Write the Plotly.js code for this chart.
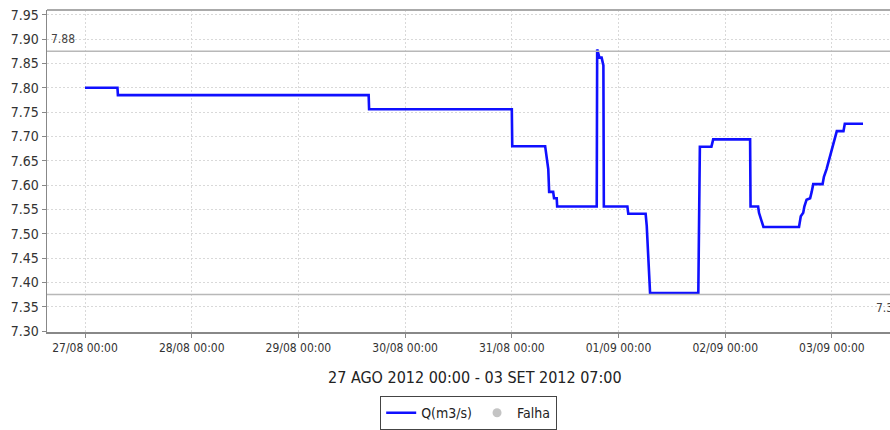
<!DOCTYPE html>
<html>
<head>
<meta charset="utf-8">
<script src="https://cdn.plot.ly/plotly-3.0.1.min.js"></script>
<style>
html,body{margin:0;padding:0;background:#fff;}
#chart{width:890px;height:430px;}
</style>
</head>
<body>
<div id="chart"></div>
<script>
// Data
const times = [
  "2012-08-27 00:00","2012-08-27 07:18","2012-08-27 07:24","2012-08-29 15:48","2012-08-29 15:54",
  "2012-08-31 00:00","2012-08-31 00:06","2012-08-31 07:30","2012-08-31 08:12","2012-08-31 08:24",
  "2012-08-31 09:18","2012-08-31 09:30","2012-08-31 10:06","2012-08-31 10:12","2012-08-31 19:06",
  "2012-08-31 19:12","2012-08-31 19:42","2012-08-31 20:12","2012-08-31 20:36","2012-08-31 20:42",
  "2012-09-01 02:00","2012-09-01 02:12","2012-09-01 06:06","2012-09-01 06:21","2012-09-01 07:06",
  "2012-09-01 17:57","2012-09-01 18:18","2012-09-01 20:54","2012-09-01 21:18","2012-09-02 05:36",
  "2012-09-02 05:42","2012-09-02 07:24","2012-09-02 07:36","2012-09-02 08:03","2012-09-02 08:36",
  "2012-09-02 16:36","2012-09-02 17:00","2012-09-02 17:33","2012-09-02 17:48","2012-09-02 18:18",
  "2012-09-02 19:06","2012-09-02 19:27","2012-09-02 19:48","2012-09-02 21:54","2012-09-02 22:12",
  "2012-09-02 22:48","2012-09-02 23:12","2012-09-02 23:42","2012-09-03 00:18","2012-09-03 00:42",
  "2012-09-03 01:06","2012-09-03 02:36","2012-09-03 02:54","2012-09-03 07:00"
];
const flow = [
  7.800,7.800,7.785,7.785,7.756,
  7.756,7.680,7.680,7.633,7.586,
  7.586,7.573,7.573,7.556,7.556,
  7.879,7.862,7.862,7.846,7.556,
  7.556,7.541,7.541,7.516,7.378,
  7.378,7.679,7.679,7.694,7.694,
  7.556,7.556,7.543,7.529,7.514,
  7.514,7.536,7.543,7.556,7.570,
  7.573,7.586,7.602,7.602,7.617,
  7.633,7.647,7.664,7.681,7.697,
  7.711,7.711,7.726,7.726
];
const seriesName = "Q(m3/s)";
const failName = "Falha";
const upperLimit = 7.875, upperLabel = "7.88";
const lowerLimit = 7.375, lowerLabel = "7.38";
const xTitle = "27 AGO 2012 00:00 - 03 SET 2012 07:00";
const tickVals = ["2012-08-27","2012-08-28","2012-08-29","2012-08-30","2012-08-31","2012-09-01","2012-09-02","2012-09-03"];
const tickText = ["27/08 00:00","28/08 00:00","29/08 00:00","30/08 00:00","31/08 00:00","01/09 00:00","02/09 00:00","03/09 00:00"];

const FONT = "DejaVu Sans Condensed, DejaVu Sans, sans-serif";

const traces = [
  {x: times, y: flow, type: "scatter", mode: "lines", name: seriesName,
   line: {color: "#1010ff", width: 2.6}, hoverinfo: "skip"},
  {x: [null], y: [null], type: "scatter", mode: "markers", name: failName,
   marker: {color: "#c4c4c4", size: 9, symbol: "circle"}}
];

const layout = {
  width: 890, height: 430,
  margin: {l: 47, r: 0, t: 10, b: 92},
  paper_bgcolor: "#ffffff", plot_bgcolor: "#ffffff",
  font: {family: FONT, size: 12, color: "#333"},
  showlegend: true,
  legend: {orientation: "h", x: 0.5, xanchor: "center", y: -0.2, yanchor: "top",
           bordercolor: "#444", borderwidth: 1.2, bgcolor: "#fff",
           font: {family: FONT, size: 14, color: "#222"}, itemwidth: 30, tracegroupgap: 0},
  xaxis: {
    type: "date", range: ["2012-08-26 15:27", "2012-09-03 13:04"],
    tickvals: tickVals, ticktext: tickText,
    showgrid: true, gridcolor: "#d9d9d9", griddash: "2px,2px", gridwidth: 1,
    showline: true, linecolor: "#888", linewidth: 1.5, mirror: false,
    ticks: "outside", ticklen: 4, tickcolor: "#888",
    tickfont: {family: FONT, size: 12, color: "#333"}, zeroline: false
  },
  yaxis: {
    range: [7.298, 7.960], tick0: 7.30, dtick: 0.05, tickformat: ".2f",
    showgrid: true, gridcolor: "#d9d9d9", griddash: "2px,2px", gridwidth: 1,
    showline: true, linecolor: "#888", linewidth: 1.5,
    ticks: "outside", ticklen: 4, tickcolor: "#888",
    tickfont: {family: FONT, size: 14, color: "#333"}, zeroline: false
  },
  shapes: [
    {type: "line", xref: "paper", x0: 0, x1: 1, yref: "paper", y0: 1, y1: 1,
     line: {color: "#aaa", width: 2}},
    {type: "line", xref: "paper", x0: 0, x1: 1, yref: "y", y0: upperLimit, y1: upperLimit,
     line: {color: "#b8b8b8", width: 1.5}},
    {type: "line", xref: "paper", x0: 0, x1: 1, yref: "y", y0: lowerLimit, y1: lowerLimit,
     line: {color: "#b8b8b8", width: 1.5}}
  ],
  annotations: [
    {xref: "paper", x: 0, xanchor: "left", xshift: 2, yref: "y", y: upperLimit, yanchor: "bottom", yshift: 3,
     text: upperLabel, showarrow: false, font: {family: FONT, size: 12, color: "#444"}},
    {xref: "paper", x: 1, xanchor: "left", xshift: -16, yref: "y", y: lowerLimit, yanchor: "top", yshift: -4,
     text: lowerLabel, showarrow: false, font: {family: FONT, size: 12, color: "#444"}},
    {xref: "paper", x: 0.508, xanchor: "center", yref: "paper", y: -0.105, yanchor: "top",
     text: xTitle, showarrow: false, font: {family: FONT, size: 16, color: "#222"}}
  ]
};

Plotly.newPlot("chart", traces, layout, {staticPlot: true, displayModeBar: false});
</script>
</body>
</html>
